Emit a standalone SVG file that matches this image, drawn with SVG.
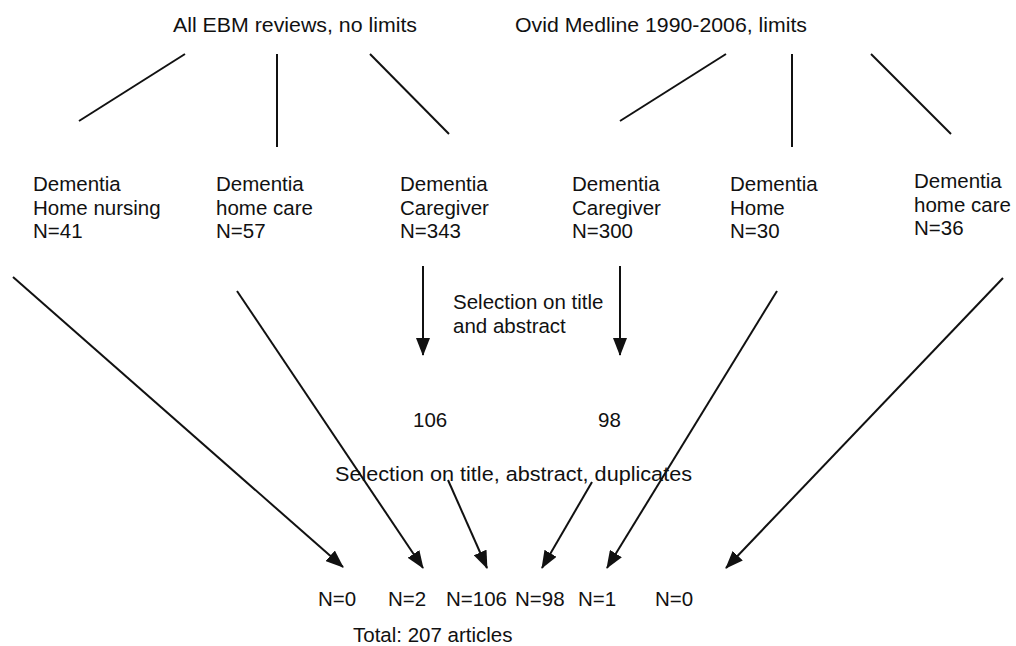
<svg xmlns="http://www.w3.org/2000/svg" width="1016" height="646" viewBox="0 0 1016 646">
<defs>
<style>
text{font-family:"Liberation Sans",Arial,sans-serif;font-size:20.5px;fill:#111}
.ln{stroke:#111;stroke-width:2;fill:none}
.ar{stroke:#111;stroke-width:2;fill:none;marker-end:url(#ah)}
</style>
<marker id="ah" viewBox="0 0 18 14" refX="17" refY="7" markerUnits="userSpaceOnUse" markerWidth="18" markerHeight="14" orient="auto">
<path d="M0,0 L18,7 L0,14 z" fill="#111"/>
</marker>
</defs>
<rect width="1016" height="646" fill="#fff"/>
<g id="src-ebm"><text x="173" y="32" textLength="244" lengthAdjust="spacingAndGlyphs">All EBM reviews, no limits</text></g>
<g id="src-ovid"><text x="515" y="32" textLength="292" lengthAdjust="spacingAndGlyphs">Ovid Medline 1990-2006, limits</text></g>
<g id="n1"><text x="33" y="191">Dementia</text><text x="33" y="214.5">Home nursing</text><text x="33" y="238">N=41</text></g>
<g id="n2"><text x="216" y="191">Dementia</text><text x="216" y="214.5">home care</text><text x="216" y="238">N=57</text></g>
<g id="n3"><text x="400" y="191">Dementia</text><text x="400" y="214.5">Caregiver</text><text x="400" y="238">N=343</text></g>
<g id="n4"><text x="572" y="191">Dementia</text><text x="572" y="214.5">Caregiver</text><text x="572" y="238">N=300</text></g>
<g id="n5"><text x="730" y="191">Dementia</text><text x="730" y="214.5">Home</text><text x="730" y="238">N=30</text></g>
<g id="n6"><text x="914" y="188">Dementia</text><text x="914" y="211.5">home care</text><text x="914" y="235">N=36</text></g>
<g id="sel1"><text x="453" y="309">Selection on title</text><text x="453" y="332.5">and abstract</text></g>
<g id="r106"><text x="413" y="427">106</text></g>
<g id="r98"><text x="598" y="427">98</text></g>
<g id="sel2"><text x="335" y="481" textLength="357" lengthAdjust="spacingAndGlyphs">Selection on title, abstract,  duplicates</text></g>
<g id="final">
<text x="318" y="606">N=0</text>
<text x="388" y="606">N=2</text>
<text x="446" y="606">N=106</text>
<text x="515" y="606">N=98</text>
<text x="578" y="606">N=1</text>
<text x="655" y="606">N=0</text>
</g>
<g id="total"><text x="353" y="642">Total: 207 articles</text></g>
<g id="connectors">
<line class="ln" x1="185" y1="54" x2="79" y2="121"/>
<line class="ln" x1="277" y1="54" x2="277" y2="147"/>
<line class="ln" x1="370" y1="54" x2="449" y2="134"/>
<line class="ln" x1="726" y1="54" x2="620" y2="121"/>
<line class="ln" x1="792" y1="54" x2="792" y2="147"/>
<line class="ln" x1="871" y1="54" x2="951" y2="134"/>
<line class="ar" x1="13" y1="277" x2="343" y2="567"/>
<line class="ar" x1="237" y1="291" x2="423" y2="568"/>
<line class="ar" x1="423" y1="266" x2="423" y2="355"/>
<line class="ar" x1="620" y1="266" x2="620" y2="355"/>
<line class="ar" x1="448" y1="480" x2="487" y2="568"/>
<line class="ar" x1="592" y1="482" x2="542" y2="568"/>
<line class="ar" x1="777" y1="291" x2="607" y2="568"/>
<line class="ar" x1="1003" y1="278" x2="726" y2="568"/>
</g>
</svg>
